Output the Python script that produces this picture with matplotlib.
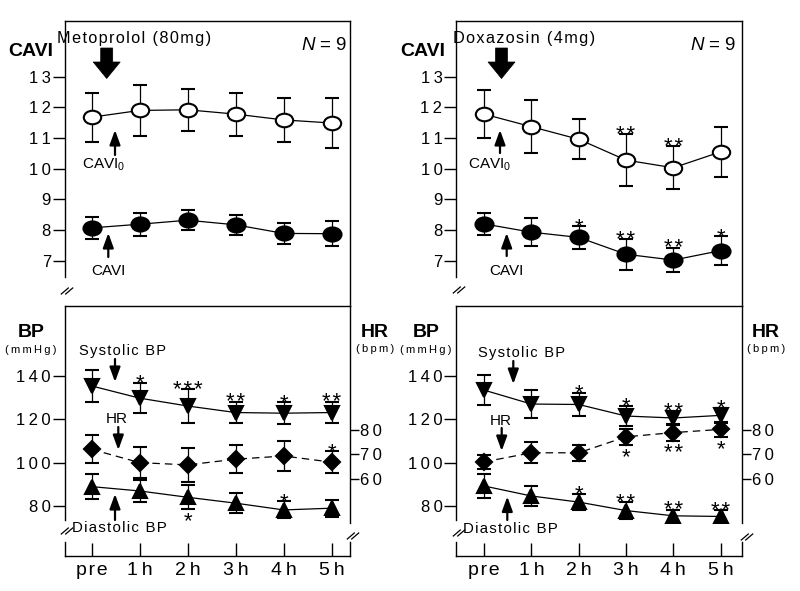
import matplotlib
matplotlib.use('Agg')
import matplotlib.pyplot as plt
import numpy as np
from matplotlib.path import Path
from matplotlib.transforms import Affine2D
from matplotlib.lines import Line2D
from matplotlib.patches import Polygon, FancyArrowPatch

plt.rcParams['font.family'] = ['Liberation Sans', 'DejaVu Sans']
plt.rcParams['mathtext.fontset'] = 'custom'
plt.rcParams['mathtext.rm'] = 'Liberation Sans'
plt.rcParams['mathtext.it'] = 'Liberation Sans:italic'

# ---------------- data ----------------
time_labels = ['pre', '1h', '2h', '3h', '4h', '5h']
cavi_ticks = [7, 8, 9, 10, 11, 12, 13]
bp_ticks = [80, 100, 120, 140]
hr_ticks = [60, 70, 80]

# Metoprolol (80 mg)
meto_cavi0_mean = [11.68, 11.90, 11.92, 11.78, 11.59, 11.49]
meto_cavi0_sd = [0.80, 0.83, 0.69, 0.70, 0.71, 0.83]
meto_cavi_mean = [8.07, 8.19, 8.32, 8.17, 7.89, 7.88]
meto_cavi_sd = [0.35, 0.37, 0.32, 0.33, 0.33, 0.40]
meto_sbp_mean = [135.2, 129.6, 126.0, 123.0, 122.7, 123.0]
meto_sbp_sd = [7.5, 7.0, 7.6, 5.0, 5.0, 5.0]
meto_hr_mean = [72.0, 66.6, 65.7, 68.0, 69.3, 66.8]
meto_hr_sd = [5.7, 6.4, 7.0, 5.7, 6.2, 4.4]
meto_dbp_mean = [89.0, 87.0, 84.1, 81.4, 78.3, 79.1]
meto_dbp_sd = [5.8, 5.0, 5.5, 4.7, 3.9, 3.9]
meto_cavi0_sig_up = ['', '', '', '', '', '']
meto_cavi_sig_up = ['', '', '', '', '', '']
meto_sbp_sig_up = ['', '*', '***', '**', '*', '**']
meto_hr_sig_up = ['', '', '', '', '', '*']
meto_hr_sig_dn = ['', '', '', '', '', '']
meto_dbp_sig_up = ['', '', '', '', '*', '']
meto_dbp_sig_dn = ['', '', '*', '', '', '']

# Doxazosin (4 mg)
doxa_cavi0_mean = [11.78, 11.37, 10.96, 10.28, 10.03, 10.55]
doxa_cavi0_sd = [0.77, 0.87, 0.66, 0.85, 0.70, 0.81]
doxa_cavi_mean = [8.20, 7.93, 7.76, 7.21, 7.02, 7.33]
doxa_cavi_sd = [0.36, 0.45, 0.37, 0.50, 0.40, 0.47]
doxa_sbp_mean = [133.3, 126.9, 126.7, 121.4, 120.5, 121.7]
doxa_sbp_sd = [7.0, 6.5, 5.3, 4.6, 3.0, 3.5]
doxa_hr_mean = [66.9, 70.6, 70.6, 77.1, 78.8, 80.1]
doxa_hr_sd = [2.8, 4.2, 3.2, 3.2, 3.4, 3.0]
doxa_dbp_mean = [89.3, 84.7, 81.9, 78.0, 75.6, 75.3]
doxa_dbp_sd = [5.3, 4.7, 3.8, 3.8, 2.8, 3.0]
doxa_cavi0_sig_up = ['', '', '', '**', '**', '']
doxa_cavi_sig_up = ['', '', '*', '**', '**', '*']
doxa_sbp_sig_up = ['', '', '*', '*', '**', '*']
doxa_hr_sig_up = ['', '', '', '', '', '']
doxa_hr_sig_dn = ['', '', '', '*', '**', '*']
doxa_dbp_sig_up = ['', '', '*', '**', '**', '**']
doxa_dbp_sig_dn = ['', '', '', '', '', '']

# ---------------- figure ----------------
W, H = 800, 591
fig = plt.figure(figsize=(8, 5.91), dpi=100)
PX = Affine2D().scale(1 / W, -1 / H).translate(0, 1) + fig.transFigure

HAIR = '\u200a'
THIN = '\u2009'


def sp(s, sep=HAIR):
    return sep.join(s)


def add_ax(x0, y0, x1, y1):
    return fig.add_axes([x0 / W, 1 - y1 / H, (x1 - x0) / W, (y1 - y0) / H])


ellipse = Path.unit_circle().transformed(Affine2D().scale(1, 0.78))
x = np.arange(len(time_labels))
LW = 0.9
STAR_FS = 16


def series(ax, mean, sd, marker, ms, mfc, ls='-'):
    ax.errorbar(x, mean, yerr=sd, color='black', marker=marker, ms=ms,
                mfc=mfc, mec='black', mew=1.5, lw=LW, linestyle=ls,
                elinewidth=LW, capsize=5, capthick=LW)


def sig(ax, mean, sd, up=None, dn=None):
    for i in range(len(mean)):
        if up is not None and up[i]:
            ax.annotate(sp(up[i]), xy=(x[i], mean[i] + sd[i]), xytext=(0, -4.8),
                        textcoords='offset points', ha='center', va='baseline',
                        fontsize=STAR_FS)
        if dn is not None and dn[i]:
            ax.annotate(sp(dn[i]), xy=(x[i], mean[i] - sd[i]), xytext=(0, -13.2),
                        textcoords='offset points', ha='center', va='baseline',
                        fontsize=STAR_FS)


def brk(xc, yc):
    for dx in (-2.2, 2.2):
        fig.add_artist(Line2D([xc + dx - 3.5, xc + dx + 3.5], [yc + 3, yc - 3],
                              transform=PX, color='black', lw=0.9))


def fat_arrow(xc):
    pts = [(xc - 6, 48), (xc + 6, 48), (xc + 6, 62), (xc + 13.5, 62), (xc, 78.5),
           (xc - 13.5, 62), (xc - 6, 62)]
    fig.add_artist(Polygon(pts, closed=True, transform=PX, facecolor='black',
                           edgecolor='black', lw=0.5))


def thin_arrow(xc, ytail, ytip):
    fig.add_artist(FancyArrowPatch(
        (xc, ytail), (xc, ytip), transform=PX,
        arrowstyle='-|>,head_length=0.55,head_width=0.2', mutation_scale=16,
        lw=1.6, color='black', shrinkA=0, shrinkB=0))


def txt(xp, yp, s, fs, **kw):
    fig.text(xp, yp, s, transform=PX, fontsize=fs, va='baseline', **kw)


panels = [
    dict(x0=64.5, x1=350.0, c0=91.7, c5=331.7,
         cavi0=(meto_cavi0_mean, meto_cavi0_sd, meto_cavi0_sig_up),
         cavi=(meto_cavi_mean, meto_cavi_sd, meto_cavi_sig_up),
         sbp=(meto_sbp_mean, meto_sbp_sd, meto_sbp_sig_up),
         hr=(meto_hr_mean, meto_hr_sd, meto_hr_sig_up, meto_hr_sig_dn),
         dbp=(meto_dbp_mean, meto_dbp_sd, meto_dbp_sig_up, meto_dbp_sig_dn)),
    dict(x0=456.0, x1=742.3, c0=484.0, c5=720.7,
         cavi0=(doxa_cavi0_mean, doxa_cavi0_sd, doxa_cavi0_sig_up),
         cavi=(doxa_cavi_mean, doxa_cavi_sd, doxa_cavi_sig_up),
         sbp=(doxa_sbp_mean, doxa_sbp_sd, doxa_sbp_sig_up),
         hr=(doxa_hr_mean, doxa_hr_sd, doxa_hr_sig_up, doxa_hr_sig_dn),
         dbp=(doxa_dbp_mean, doxa_dbp_sd, doxa_dbp_sig_up, doxa_dbp_sig_dn)),
]

TOP_Y0, TOP_Y1 = 21.0, 306.0
BOT_Y0, BOT_Y1 = 306.0, 523.0
CAVI_LIM = (5.523, 14.816)
BP_LIM = (72.3, 171.9)
HR_LIM = (42.1, 130.2)

for p in panels:
    unit = (p['c5'] - p['c0']) / 5
    xlim = (-(p['c0'] - p['x0']) / unit, 5 + (p['x1'] - p['c5']) / unit)

    # ---- top: CAVI ----
    at = add_ax(p['x0'], TOP_Y0, p['x1'], TOP_Y1)
    at.set_xlim(*xlim)
    at.set_ylim(*CAVI_LIM)
    at.spines['bottom'].set_visible(False)
    at.spines['left'].set_bounds(6.47, CAVI_LIM[1])
    for s in at.spines.values():
        s.set_linewidth(1.0)
    at.set_xticks([])
    at.set_yticks(cavi_ticks)
    at.set_yticklabels([sp(str(t), THIN) for t in cavi_ticks])
    at.tick_params(axis='y', direction='out', length=8.3, width=1.0, pad=1.5,
                   labelsize=12)
    m, s, up = p['cavi0']
    series(at, m, s, ellipse, 12.5, 'white')
    sig(at, m, s, up=up)
    m, s, up = p['cavi']
    series(at, m, s, ellipse, 13, 'black')
    sig(at, m, s, up=up)

    # ---- bottom: BP / HR ----
    ab = add_ax(p['x0'], BOT_Y0, p['x1'], BOT_Y1)
    ab.set_xlim(*xlim)
    ab.set_ylim(*BP_LIM)
    ab.spines['bottom'].set_visible(False)
    ab.spines['left'].set_bounds(73.7, BP_LIM[1])
    for s_ in ab.spines.values():
        s_.set_linewidth(1.0)
    ab.set_xticks([])
    ab.set_yticks(bp_ticks)
    ab.set_yticklabels([sp(str(t), THIN) for t in bp_ticks])
    ab.tick_params(axis='y', direction='out', length=8.3, width=1.0, pad=1.5,
                   labelsize=12)
    m, s, up = p['sbp']
    series(ab, m, s, 'v', 9.5, 'black')
    sig(ab, m, s, up=up)
    m, s, up, dn = p['dbp']
    series(ab, m, s, '^', 9.5, 'black')
    sig(ab, m, s, up=up, dn=dn)

    ah = ab.twinx()
    ah.set_xlim(*xlim)
    ah.set_ylim(*HR_LIM)
    for s_ in ah.spines.values():
        s_.set_visible(False)
    ah.set_yticks(hr_ticks)
    ah.set_yticklabels([sp(str(t), THIN) for t in hr_ticks])
    ah.tick_params(axis='y', direction='out', length=6.5, width=1.0, pad=0.5,
                   labelsize=12)
    m, s, up, dn = p['hr']
    series(ah, m, s, 'D', 7.8, 'black', ls=(0, (6, 4)))
    sig(ah, m, s, up=up, dn=dn)

    # ---- x-axis strip ----
    ax_ = add_ax(p['x0'], 541.7, p['x1'], 555.7)
    ax_.set_xlim(*xlim)
    ax_.set_ylim(0, 1)
    ax_.spines['top'].set_visible(False)
    for s_ in ax_.spines.values():
        s_.set_linewidth(1.0)
    ax_.set_yticks([])
    ax_.set_xticks(x)
    ax_.set_xticklabels([sp(t, THIN) if t != 'pre' else sp(t) for t in time_labels])
    ax_.tick_params(axis='x', direction='in', length=9.4, width=1.0, pad=4.5,
                    labelsize=14)

# ---------------- decorations ----------------
# Left panel
txt(8, 56, 'CAVI', 14, fontweight='bold')
txt(57, 42.5, sp('Metoprolol (80mg)'), 11.7)
txt(347, 49.5, r'$N$ = 9', 13.5, ha='right')
fat_arrow(106.7)
thin_arrow(115, 155, 130)
txt(82, 168.5, r'CAVI$_0$', 11)
thin_arrow(108.3, 257, 233)
txt(91, 275, 'CAVI', 11)
txt(18, 336.7, 'BP', 14, fontweight='bold')
txt(5, 353, sp('(mmHg)', THIN), 8)
txt(361, 336.7, 'HR', 14, fontweight='bold')
txt(356, 352.5, sp('(bpm)', THIN), 8)
txt(79, 355.5, sp('Systolic BP'), 10.5)
thin_arrow(115, 359, 382)
txt(106, 423.3, 'HR', 11)
thin_arrow(118.3, 427, 450)
txt(72, 531.7, sp('Diastolic BP'), 10.8)
thin_arrow(115, 520, 494)
brk(67, 291)
brk(67, 531)
brk(353, 536)

# Right panel
txt(400, 56, 'CAVI', 14, fontweight='bold')
txt(453, 42.5, sp('Doxazosin (4mg)'), 11.7)
txt(736, 49.5, r'$N$ = 9', 13.5, ha='right')
fat_arrow(501.5)
thin_arrow(500, 153, 130)
txt(468, 169, r'CAVI$_0$', 11)
thin_arrow(506.7, 256, 233)
txt(489, 275, 'CAVI', 11)
txt(413, 336.7, 'BP', 14, fontweight='bold')
txt(400, 353, sp('(mmHg)', THIN), 8)
txt(752, 336.7, 'HR', 14, fontweight='bold')
txt(747, 352.5, sp('(bpm)', THIN), 8)
txt(478, 356.7, sp('Systolic BP'), 10.5)
thin_arrow(513.3, 361, 384)
txt(490, 425, 'HR', 11)
thin_arrow(501.7, 428, 451)
txt(463, 533.3, sp('Diastolic BP'), 10.8)
thin_arrow(507.3, 520, 496.5)
brk(459, 290)
brk(459, 533)
brk(747, 537)

fig.savefig('out.png', dpi=100)
